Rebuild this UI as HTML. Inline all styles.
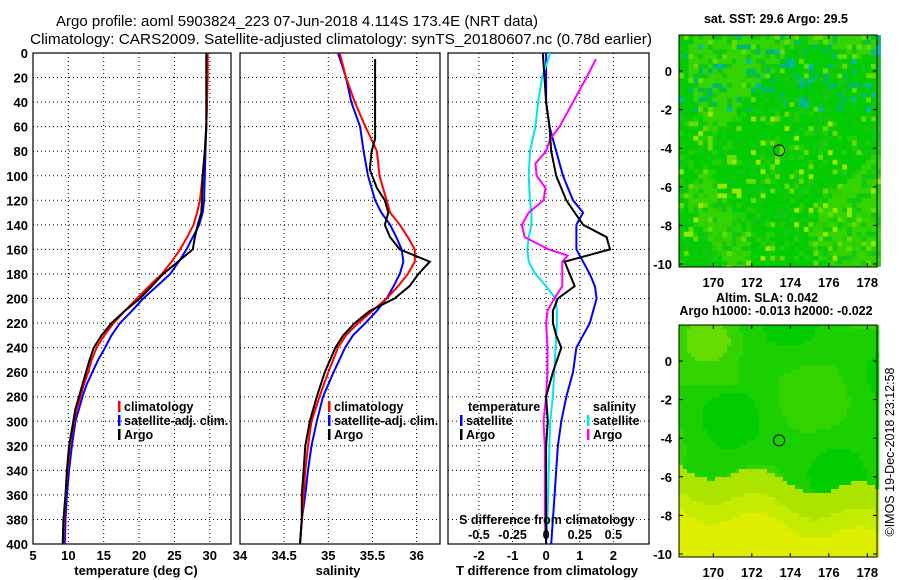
<!DOCTYPE html>
<html><head><meta charset="utf-8"><style>
body{margin:0;background:#fff}
svg{display:block;font-family:"Liberation Sans",sans-serif;font-weight:bold}
</style></head><body>
<svg id="c" width="900" height="580" viewBox="0 0 900 580" xmlns="http://www.w3.org/2000/svg">
<text x="56" y="26" font-size="15" textLength="482" lengthAdjust="spacingAndGlyphs" font-weight="normal">Argo profile: aoml 5903824_223 07-Jun-2018 4.114S 173.4E (NRT data)</text>
<text x="30" y="44" font-size="15" textLength="622" lengthAdjust="spacingAndGlyphs" font-weight="normal">Climatology: CARS2009. Satellite-adjusted climatology: synTS_20180607.nc (0.78d earlier)</text>
<g id="g"></g>
</svg>
<script>
const depths=[0,20,40,60,80,100,120,130,140,150,160,170,180,190,200,210,220,230,240,250,260,270,280,290,300,320,340,360,380,400];
const tempClim=[29.7,29.7,29.6,29.5,29.3,29.0,28.6,28.2,27.7,26.8,25.8,24.6,23.2,21.4,19.7,18.0,16.4,15.1,14.0,13.3,12.8,12.2,11.7,11.2,10.8,10.2,9.9,9.6,9.4,9.3];
const tempSat=[29.6,29.6,29.6,29.5,29.4,29.3,29.2,29.0,28.5,27.6,26.7,25.6,24.4,22.5,20.6,19.0,17.3,16.1,15.2,14.2,13.4,12.6,12.0,11.5,11.0,10.5,10.1,9.8,9.6,9.5];
const tempArgo=[29.5,29.5,29.5,29.5,29.3,29.0,28.9,28.8,28.3,27.9,27.6,25.5,23.4,21.8,20.1,18.0,16.1,14.7,13.6,13.0,12.5,12.0,11.5,11.0,10.7,10.1,9.8,9.6,9.3,9.2];
const sDepths=[0,20,40,60,80,100,120,130,140,150,160,170,180,190,200,210,220,230,240,260,280,300,320,340,360,380,400];
const salClim=[35.13,35.2,35.3,35.42,35.55,35.58,35.66,35.7,35.81,35.9,35.98,35.98,35.9,35.79,35.66,35.5,35.34,35.2,35.11,35.0,34.9,34.81,34.77,34.74,34.72,34.7,34.68];
const salSat=[35.11,35.2,35.26,35.36,35.4,35.45,35.53,35.6,35.7,35.77,35.83,35.85,35.81,35.74,35.66,35.55,35.42,35.28,35.19,35.06,34.94,34.87,34.81,34.77,34.74,34.7,34.68];
const argoSDepths=[5,70,80,95,110,120,130,140,150,160,170,180,190,200,210,220,230,240,260,280,300,320,340,360,380,400];
const salArgo=[35.53,35.53,35.49,35.47,35.55,35.64,35.68,35.64,35.7,35.81,36.15,36.02,35.92,35.75,35.47,35.3,35.17,35.08,34.96,34.87,34.79,34.74,34.72,34.7,34.7,34.68];
const dDepths=[0,20,40,60,80,100,120,130,140,150,160,170,180,190,200,210,220,230,240,260,280,300,320,340,360,380,400];
const tDiffSat=[0,0,0,0.1,0.3,0.5,0.8,1.1,0.9,0.9,0.9,1.1,1.3,1.45,1.5,1.4,1.3,1.1,0.9,0.8,0.6,0.45,0.35,0.3,0.25,0.2,0.15];
const tDiffArgo=[-0.1,-0.05,0,0.1,0.15,0.3,0.6,0.85,1.1,1.8,1.9,0.55,0.7,0.85,0.35,0.2,0.2,0.3,0.45,0.2,0,0.05,0,0,0,0,0];
const sDiffSat=[0.03,-0.03,-0.06,-0.08,-0.12,-0.13,-0.12,-0.11,-0.11,-0.13,-0.14,-0.13,-0.08,0,0.07,0.08,0.08,0.075,0.07,0.06,0.05,0.03,0.025,0.02,0.015,0.01,0];
const sArgoDepths=[5,20,40,60,70,80,90,100,110,120,130,140,150,160,165,170,180,190,200,210,220,240,260,280,300,320,340,360,380,400];
const sDiffArgo=[0.37,0.3,0.2,0.1,0.03,0,-0.08,-0.07,-0.005,-0.02,-0.13,-0.18,-0.16,0.02,0.16,0.12,0.12,0.12,0.06,0.01,0,0.01,0.01,0,-0.02,-0.01,-0.01,-0.01,-0.01,0];
const depthTicks=[0,20,40,60,80,100,120,140,160,180,200,220,240,260,280,300,320,340,360,380,400];
const tempTicks=[5,10,15,20,25,30];
const salTicks=[34,34.5,35,35.5,36];
const tdTicks=[-2,-1,0,1,2];
const sdTicks=[-0.5,-0.25,0,0.25,0.5];

const NS="http://www.w3.org/2000/svg";
const G=document.getElementById('g');
function el(t,a,p){const e=document.createElementNS(NS,t);for(const k in a)e.setAttribute(k,a[k]);(p||G).appendChild(e);return e;}
const Y0=53,Y1=544;
const yS=d=>Y0+(d/400)*(Y1-Y0);
function panel(name,x0,x1,dmin,dmax,xt,tl){
  const xs=v=>x0+(v-dmin)/(dmax-dmin)*(x1-x0);
  const g=el('g',{});
  
  
  depthTicks.forEach(d=>{if(d>0&&d<400){const l=el('line',{x1:x0,x2:x1,y1:yS(d),y2:yS(d),stroke:'#000','stroke-width':1,'stroke-dasharray':'1,3'},g);}});
  xt.forEach(v=>{const x=xs(v);if(x>x0+1&&x<x1-1){const l=el('line',{x1:x,x2:x,y1:Y0,y2:Y1,stroke:'#000','stroke-width':1,'stroke-dasharray':'1,3'},g);}
    if(tl){const t=el('text',{x:x,y:Y1+16,'font-size':13,'text-anchor':'middle'},g);t.textContent=v;}});
  const r=el('rect',{x:x0,y:Y0,width:x1-x0,height:Y1-Y0,fill:'none',stroke:'#000','stroke-width':1.2},g);
  
  return xs;
}
function line(name,xs,vals,ds,col,w){
  const p=el('polyline',{points:vals.map((v,i)=>xs(v).toFixed(1)+','+yS(ds[i]).toFixed(1)).join(' '),fill:'none',stroke:col,'stroke-width':w||2});
  
}
function txt(name,x,y,s,fs,anchor,col){const t=el('text',{x:x,y:y,'font-size':fs||13,'text-anchor':anchor||'start',fill:col||'#000'});t.textContent=s;return t;}
function legend(name,x,y,col,label){const r=el('rect',{x:x,y:y-10,width:2.5,height:11,fill:col});txt(name,x+6,y,label,12.5);}

// panel 1
const xT=panel('temperature-panel',33,231,5,33,tempTicks,true);
depthTicks.forEach(d=>txt('y-tick-label',28,yS(d)+5,d,13,'end'));
line('temp-satellite',xT,tempSat,depths,'#0000ff');
line('temp-climatology',xT,tempClim,depths,'#ff0000');
line('temp-argo',xT,tempArgo,depths,'#000');
txt('temperature-axis-title',136,575,'temperature (deg C)',13,'middle');
legend('legend-climatology',118,411,'#f00','climatology');
legend('legend-satellite-adj',118,425,'#00f','satellite-adj. clim.');
legend('legend-argo',118,439,'#000','Argo');
// panel 2
const xS=panel('salinity-panel',240,440,34,36.265,salTicks,true);
line('sal-satellite',xS,salSat,sDepths,'#0000ff');
line('sal-climatology',xS,salClim,sDepths,'#ff0000');
line('sal-argo',xS,salArgo,argoSDepths,'#000');
txt('salinity-axis-title',338,575,'salinity',13,'middle');
legend('legend-climatology-2',328,411,'#f00','climatology');
legend('legend-satellite-adj-2',328,425,'#00f','satellite-adj. clim.');
legend('legend-argo-2',328,439,'#000','Argo');
// panel 3
const xD=panel('difference-panel',448,649,-2.92,3.06,tdTicks,true);
const xSD=v=>xD(v*4);
line('tdiff-satellite',xD,tDiffSat,dDepths,'#0000ff');
line('sdiff-satellite',xSD,sDiffSat,dDepths,'#00e5ee');
line('sdiff-argo',xSD,sDiffArgo,sArgoDepths,'#ff00ff');
line('tdiff-argo',xD,tDiffArgo,dDepths,'#000');
sdTicks.forEach(v=>txt('s-diff-tick',xSD(v),539,v,12.5,'middle'));
txt('s-diff-title',547,524,'S difference from climatology',12.5,'middle');
txt('t-diff-title',547,575,'T difference from climatology',13,'middle');
txt('legend-temperature-head',468,411,'temperature',12.5);
legend('legend-t-satellite',460,425,'#00f','satellite');
legend('legend-t-argo',460,439,'#000','Argo');
txt('legend-salinity-head',593,411,'salinity',12.5);
legend('legend-s-satellite',587,425,'#00e5ee','satellite');
legend('legend-s-argo',587,439,'#f0f','Argo');

// maps (decorative texture)
let seed=7;function rnd(){seed=(seed*16807)%2147483647;return seed/2147483647;}
function map(name,y0,y1,lat0y,lat10y,kind){
  const x0=679,x1=877;
  const g=el('g',{});
  const cs=kind==0?4.8:4;
  for(let y=y0;y<y1;y+=cs)for(let x=x0;x<x1;x+=cs){
    let c;
    if(kind==0){const r=rnd();const lat=(y-lat0y)/(lat10y-lat0y)*-10;
      const blob=Math.sin((x-679)/25)+Math.cos((y-35)/30)+Math.sin((x+y)/40);
      c=r<0.6?(blob>0.8?'#33d400':'#00cc00'):r<0.8?'#11c810':r<0.9?(lat>-2?'#00bb66':'#22d000'):r<0.96?'#66dd00':(lat>-2?'#00bbaa':'#99e800');}
    else{const f=(y-y0)/(y1-y0);const u=(x-x0)/(x1-x0);
      const w=0.6+0.12*u+0.04*Math.sin(u*12);
      const b=Math.sin(u*9+f*6)*0.5+Math.cos(u*5-f*11)*0.5;
      let v=f>w?0.72+(f-w)*1.2:(0.3+0.1*b);
      if(f<0.25&&u<0.3) v+=0.08;
      c=v>0.95?'#ddee00':v>0.85?'#c4ec00':v>0.72?'#aae400':v>0.45?'#66dc00':v>0.33?'#33d400':v>0.25?'#1ad000':'#00cc00';}
    el('rect',{x:x,y:y,width:cs+0.3,height:Math.min(cs+0.3,y1-y),fill:c},g);
  }
  const cx=x0+(173.4-168.2)*19.25, cy=lat0y+4.114*(lat10y-lat0y)/10;
  const c=el('circle',{cx:cx,cy:cy,r:5.5,fill:'none',stroke:'#000','stroke-width':1},g);
  const f=el('rect',{x:x0,y:y0,width:x1-x0,height:y1-y0,fill:'none',stroke:'#000','stroke-width':1},g);
  [170,172,174,176,178].forEach(l=>{const x=713.3+(l-170)*19.25;el('line',{x1:x,x2:x,y1:y0,y2:y0+4,stroke:'#000'},g);el('line',{x1:x,x2:x,y1:y1,y2:y1-4,stroke:'#000'},g);txt('lon-tick-label',x,y1+20,l,13,'middle');});
  [0,-2,-4,-6,-8,-10].forEach(l=>{const y=lat0y+l/-10*(lat10y-lat0y);el('line',{x1:x0,x2:x0+4,y1:y,y2:y,stroke:'#000'},g);el('line',{x1:x1,x2:x1-4,y1:y,y2:y,stroke:'#000'},g);txt('lat-tick-label',x0-7,y+5,l,13,'end');});
}
map('sst-map',35,267,71,264,0);
map('sla-map',325,557,361,554,1);
txt('sst-map-title',776,23,'sat. SST: 29.6 Argo: 29.5',12.5,'middle');
txt('sla-map-title',767,302,'Altim. SLA: 0.042',12.5,'middle');
txt('sla-map-subtitle',776,315,'Argo h1000: -0.013 h2000: -0.022',12.5,'middle');
const cr=txt('copyright-stamp',0,0,'©IMOS 19-Dec-2018 23:12:58',12.5,'middle');cr.setAttribute('font-weight','normal');cr.setAttribute('transform','translate(894,452) rotate(-90)');
</script>
</body></html>
